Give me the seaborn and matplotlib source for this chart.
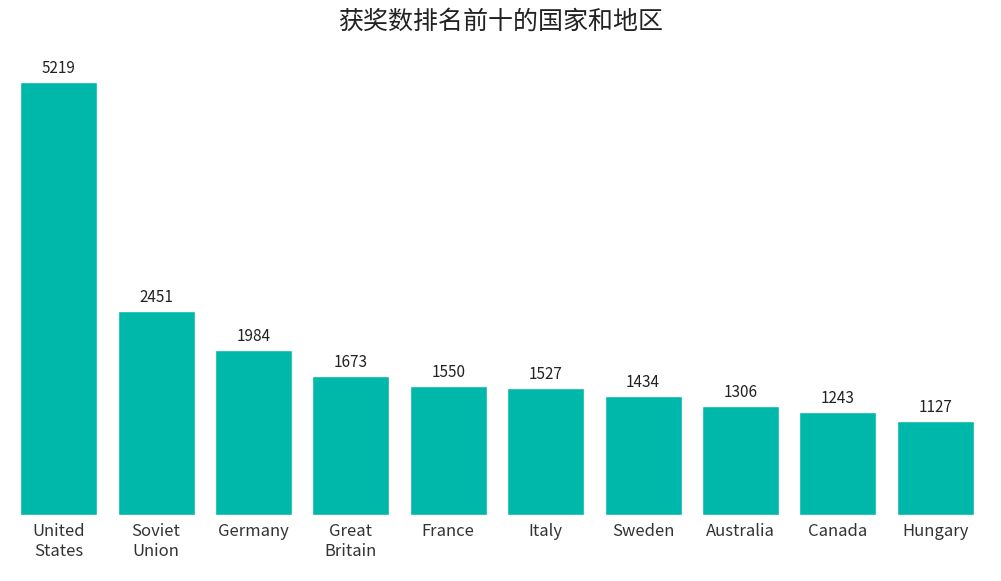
import matplotlib
matplotlib.use("Agg")
import matplotlib.pyplot as plt
import pandas as pd
import seaborn as sns

countries = ["United\nStates", "Soviet\nUnion", "Germany", "Great\nBritain", "France",
             "Italy", "Sweden", "Australia", "Canada", "Hungary"]
medals = [5219, 2451, 1984, 1673, 1550, 1527, 1434, 1306, 1243, 1127]

sns.set_theme(style="white")
plt.rcParams["font.family"] = ["Noto Sans CJK SC", "DejaVu Sans"]

df = pd.DataFrame({"country": countries, "medals": medals})

fig = plt.figure(figsize=(10.01, 5.81), dpi=100)
ax = fig.add_axes([0.01, 0.114, 0.973, 0.783])
sns.barplot(data=df, x="country", y="medals", color="#00B8A9", saturation=1,
            width=0.79, ax=ax)
ax.set_xlim(-0.5, 9.5)
ax.set_ylim(0, 5484)
for i, v in enumerate(medals):
    ax.text(i, v + 60, str(v), ha="center", va="bottom", fontsize=11, color="#222222")
ax.set_yticks([])
ax.set_xlabel("")
ax.set_ylabel("")
ax.tick_params(axis="x", length=0, labelsize=12, colors="#333333", pad=6)
sns.despine(ax=ax, left=True, bottom=True)
fig.suptitle("获奖数排名前十的国家和地区", y=0.985, fontsize=18, color="#222222")
fig.savefig("out.png", dpi=100)
